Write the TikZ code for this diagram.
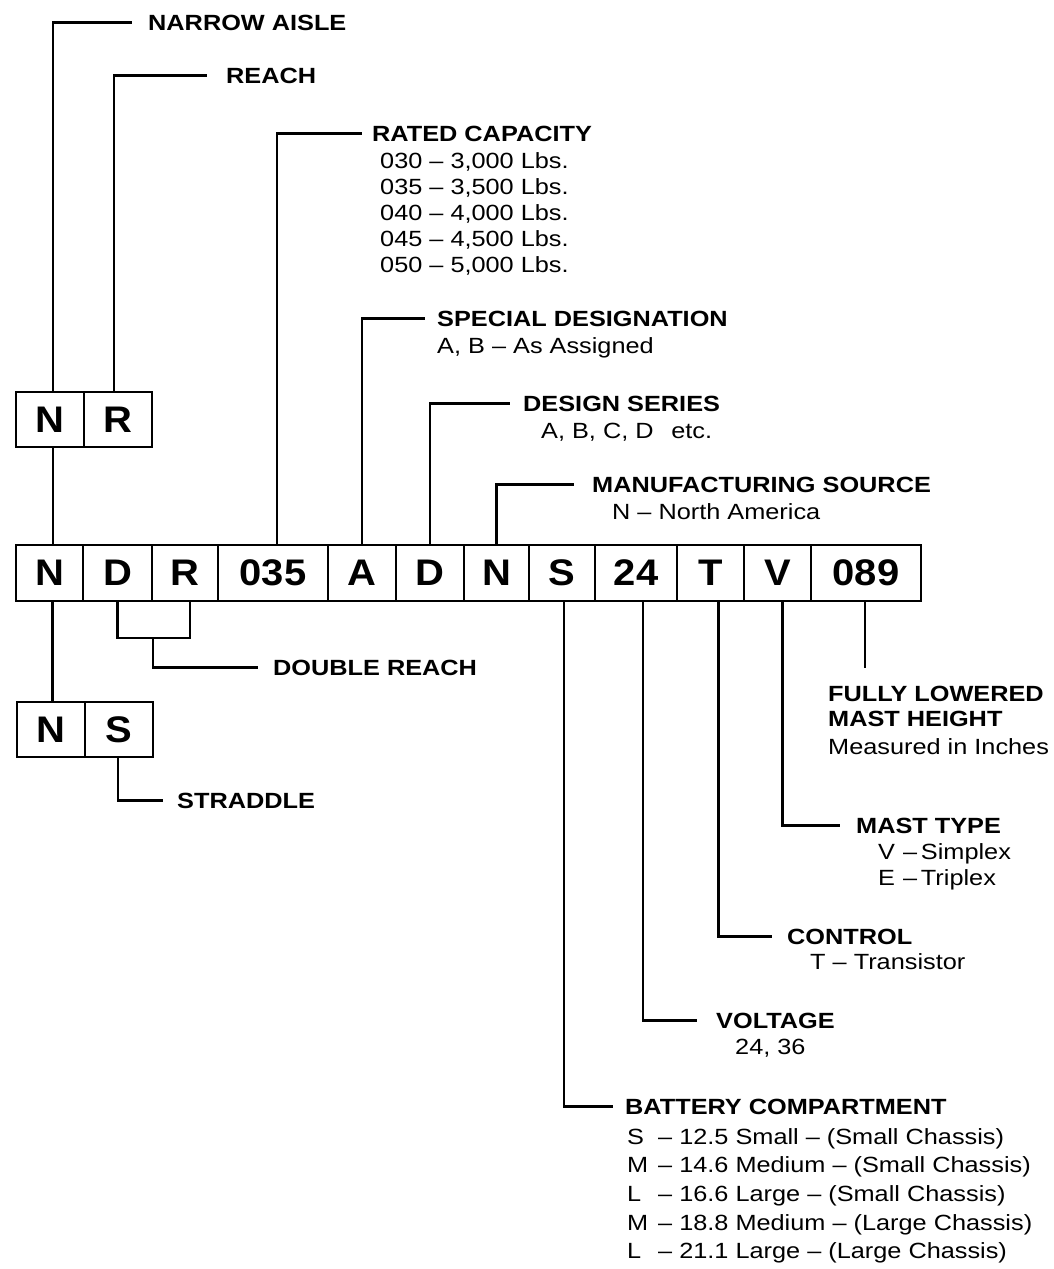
\documentclass[tikz,border=0pt]{standalone}
\usepackage{fontspec}
\setmainfont{Liberation Sans}
\newfontfamily\labf[FakeStretch=1.15]{Liberation Sans}
\newfontfamily\cellf[FakeStretch=1.08]{Liberation Sans}
\begin{document}
\begin{tikzpicture}[x=1pt,y=-1pt,
  wire/.style={line width=2.8pt, line join=miter},
  cell/.style={draw, line width=2.8pt, inner sep=0pt, minimum height=56pt,
    font=\cellf\bfseries\fontsize{37}{37}\selectfont},
  hd/.style={inner sep=0pt, anchor=base west, font=\labf\bfseries\fontsize{22}{24}\selectfont},
  sub/.style={inner sep=0pt, anchor=base west, font=\labf\fontsize{22}{24}\selectfont}]
\fill[white] (0,0) rectangle (1054,1269);
\useasboundingbox (0,0) rectangle (1054,1269);

% ---- NR box
\node[cell, minimum width=68pt, minimum height=55pt] (nrN) at (50,419.5) {N};
\node[cell, minimum width=68pt, minimum height=55pt] (nrR) at (118,419.5) {R};
% ---- main row
\node[cell, minimum width=67pt]  (mN)   at (49.5,573) {N};
\node[cell, minimum width=69pt]  (mD)   at (117.5,573) {D};
\node[cell, minimum width=66pt]  (mR)   at (185,573) {R};
\node[cell, minimum width=110pt] (m035) at (273,573) {035};
\node[cell, minimum width=68pt]  (mA)   at (362,573) {A};
\node[cell, minimum width=68pt]  (mD2)  at (430,573) {D};
\node[cell, minimum width=65pt]  (mN2)  at (496.5,573) {N};
\node[cell, minimum width=66pt]  (mS)   at (562,573) {S};
\node[cell, minimum width=82pt]  (m24)  at (636,573) {24};
\node[cell, minimum width=67pt]  (mT)   at (710.5,573) {T};
\node[cell, minimum width=67pt]  (mV)   at (777.5,573) {V};
\node[cell, minimum width=110pt] (m089) at (866,573) {089};
% ---- NS box
\node[cell, minimum width=68pt, minimum height=55pt] (nsN) at (51,729.5) {N};
\node[cell, minimum width=68pt, minimum height=55pt] (nsS) at (119,729.5) {S};

% ---- top labels
\node[hd] (hNarrow) at (148,30) {NARROW AISLE};
\node[hd] (hReach) at (226,83) {REACH};
\node[hd] (hRated) at (372,141) {RATED CAPACITY};
\node[sub] (r1) at (380,168) {030 – 3,000 Lbs.};
\node[sub] (r2) at (380,194) {035 – 3,500 Lbs.};
\node[sub] (r3) at (380,220) {040 – 4,000 Lbs.};
\node[sub] (r4) at (380,246) {045 – 4,500 Lbs.};
\node[sub] (r5) at (380,272) {050 – 5,000 Lbs.};
\node[hd] (hSpecial) at (437,326) {SPECIAL DESIGNATION};
\node[sub] (sSpecial) at (437,353) {A, B – As Assigned};
\node[hd] (hDesign) at (523,411) {DESIGN SERIES};
\node[sub] (sDesign) at (541,438) {A, B, C, D\hspace{0.8em}etc.};
\node[hd] (hManu) at (592,492) {MANUFACTURING SOURCE};
\node[sub] (sManu) at (612,519) {N – North America};

% ---- bottom labels
\node[hd] (hDouble) at (273,675) {DOUBLE REACH};
\node[hd] (hStraddle) at (177,808) {STRADDLE};
\node[hd] (hFully1) at (828,701) {FULLY LOWERED};
\node[hd] (hFully2) at (828,726) {MAST HEIGHT};
\node[sub] (sFully) at (828,754) {Measured in Inches};
\node[hd] (hMast) at (856,833) {MAST TYPE};
\node[sub] (sMast1) at (878,859) {\makebox[25pt][l]{V}–\,Simplex};
\node[sub] (sMast2) at (878,885) {\makebox[25pt][l]{E}–\,Triplex};
\node[hd] (hControl) at (787,944) {CONTROL};
\node[sub] (sControl) at (810,969) {T – Transistor};
\node[hd] (hVolt) at (716,1028) {VOLTAGE};
\node[sub] (sVolt) at (735,1054) {24, 36};
\node[hd] (hBatt) at (625,1114) {BATTERY COMPARTMENT};
\node[sub] (b1) at (627,1144) {\makebox[31pt][l]{S}– 12.5 Small – (Small Chassis)};
\node[sub] (b2) at (627,1172) {\makebox[31pt][l]{M}– 14.6 Medium – (Small Chassis)};
\node[sub] (b3) at (627,1201) {\makebox[31pt][l]{L}– 16.6 Large – (Small Chassis)};
\node[sub] (b4) at (627,1230) {\makebox[31pt][l]{M}– 18.8 Medium – (Large Chassis)};
\node[sub] (b5) at (627,1258) {\makebox[31pt][l]{L}– 21.1 Large – (Large Chassis)};

% ---- connectors, top
\draw[wire] ([xshift=3pt]nrN.north) |- ([xshift=-16pt]hNarrow.west);
\draw[wire] ([xshift=-4pt]nrR.north) |- ([xshift=-19pt]hReach.west);
\draw[wire] ([xshift=3pt]nrN.south) -- ([xshift=3pt]nrN.south |- mN.north);
\draw[wire] ([xshift=4pt]m035.north) |- ([xshift=-10pt]hRated.west);
\draw[wire] (mA.north) |- ([xshift=-12pt]hSpecial.west);
\draw[wire] (mD2.north) |- ([xshift=-13pt]hDesign.west);
\draw[wire] (mN2.north) |- ([xshift=-18pt]hManu.west);
% ---- connectors, bottom
\draw[wire] ([xshift=3pt]mN.south) -- ([xshift=3pt]mN.south |- nsN.north);
\draw[wire] ([xshift=-1pt]nsS.south) |- ([xshift=-14pt]hStraddle.west);
\coordinate (dbr) at (153,638);
\draw[wire] (mD.south) -- (mD.south |- dbr) -- ([xshift=5pt]mR.south |- dbr) -- ([xshift=5pt]mR.south);
\draw[wire] (dbr) |- ([xshift=-15pt]hDouble.west);
\coordinate (e089) at (865,668);
\draw[wire] ([xshift=-1pt]m089.south) -- ([xshift=-1pt]m089.south |- e089);
\draw[wire] ([xshift=5pt]mV.south) |- ([xshift=-16pt]hMast.west);
\draw[wire] ([xshift=8pt]mT.south) |- ([xshift=-15pt]hControl.west);
\draw[wire] ([xshift=7pt]m24.south) |- ([xshift=-19pt]hVolt.west);
\draw[wire] ([xshift=2pt]mS.south) |- ([xshift=-12pt]hBatt.west);
\end{tikzpicture}
\end{document}
